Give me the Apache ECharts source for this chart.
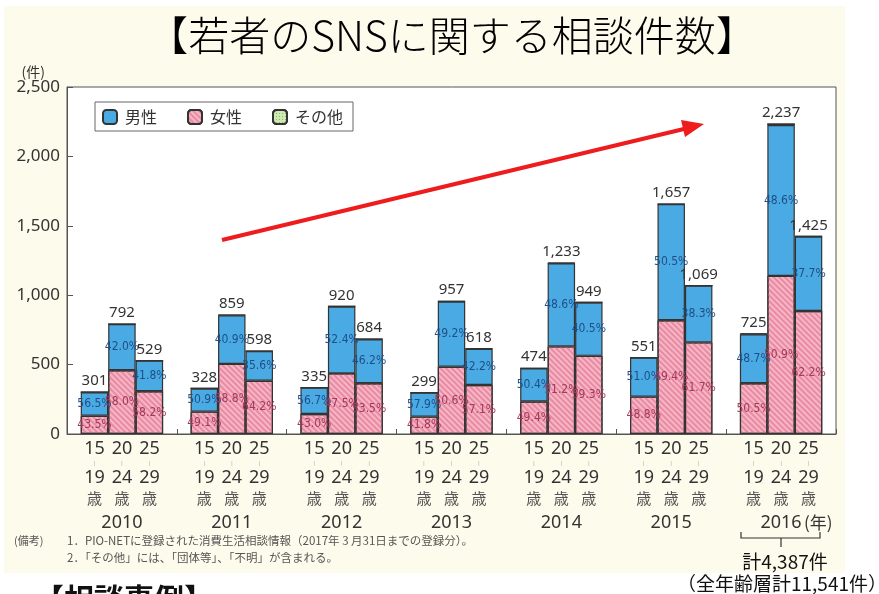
<!DOCTYPE html>
<html>
<head>
<meta charset="UTF-8">
<title>若者のSNSに関する相談件数</title>
<style>
  html, body { margin: 0; padding: 0; background: #fff; }
  #bg { position: absolute; left: 4px; top: 6px; width: 841px; height: 567px; background: #fdfbec; }
  #main { position: absolute; left: 0; top: 0; width: 879px; height: 594px; }
</style>
</head>
<body>
<div id="bg"></div>
<div id="main"></div>
<script src="https://cdn.jsdelivr.net/npm/echarts@6/dist/echarts.min.js"></script>
<script type="text/javascript">
// 年・年齢層
var years = ['2010', '2011', '2012', '2013', '2014', '2015', '2016'];
var ageTop = ['15', '20', '25'];
var ageBottom = ['19', '24', '29'];
// 合計件数（年齢層別）
var total15 = [301, 328, 335, 299, 474, 551, 725];
var total20 = [792, 859, 920, 957, 1233, 1657, 2237];
var total25 = [529, 598, 684, 618, 949, 1069, 1425];
// 男性の割合(%)
var male15 = [56.5, 50.9, 56.7, 57.9, 50.4, 51.0, 48.7];
var male20 = [42.0, 40.9, 52.4, 49.2, 48.6, 50.5, 48.6];
var male25 = [41.8, 35.6, 46.2, 42.2, 40.5, 38.3, 37.7];
// 女性の割合(%)
var female15 = [43.5, 49.1, 43.0, 41.8, 49.4, 48.8, 50.5];
var female20 = [58.0, 58.8, 47.5, 50.6, 51.2, 49.4, 50.9];
var female25 = [58.2, 64.2, 53.5, 57.1, 59.3, 61.7, 62.2];
// 縦軸
var yMax = 2500, yStep = 500;

var FONT = '"Noto Sans", "Noto Sans CJK JP", sans-serif';
var JP = '"Noto Sans CJK JP", sans-serif';
var NARROW = '"Liberation Sans Narrow", "DejaVu Sans Condensed", "Noto Sans", sans-serif';

function fmt(n) {
	return String(n).replace(/\B(?=(\d{3})+(?!\d))/g, ',');
}

var totals = [total15, total20, total25];
var males = [male15, male20, male25];
var females = [female15, female20, female25];

var blueStyle = { color: '#4aaae3', borderColor: '#333', borderWidth: 1.2 };
var pinkStyle = {
	color: '#f6b6c6', borderColor: '#333', borderWidth: 1.2,
	decal: { symbol: 'rect', symbolSize: 1, dashArrayX: [1, 0], dashArrayY: [1.2, 1.8], rotation: Math.PI / 4, color: '#e98aa3' }
};
var greenStyle = {
	color: '#cfe8b4', borderColor: '#333', borderWidth: 1.2,
	decal: { symbol: 'rect', symbolSize: 1, dashArrayX: [1, 2], dashArrayY: [1, 2], color: '#7fbf5c' }
};

var series = [];
for (var g = 0; g < 3; g++) {
	(function (g) {
		var t = totals[g], m = males[g], f = females[g];
		var fv = [], mv = [], ov = [];
		for (var i = 0; i < years.length; i++) {
			var fc = Math.round(t[i] * f[i] / 100);
			var mc = Math.round(t[i] * m[i] / 100);
			fv.push(fc);
			mv.push(mc);
			ov.push(Math.max(0, t[i] - fc - mc));
		}
		series.push({
			name: '女性', type: 'bar', stack: 'age' + g, data: fv,
			itemStyle: pinkStyle,
			label: {
				show: true, position: 'inside', fontFamily: NARROW, fontSize: 12, color: '#a23a5a',
				formatter: function (p) { return f[p.dataIndex].toFixed(1) + '%'; }
			}
		});
		series.push({
			name: '男性', type: 'bar', stack: 'age' + g, data: mv,
			itemStyle: blueStyle,
			label: {
				show: true, position: 'inside', fontFamily: NARROW, fontSize: 12, color: '#1f4f86',
				formatter: function (p) { return m[p.dataIndex].toFixed(1) + '%'; }
			}
		});
		series.push({
			name: 'その他', type: 'bar', stack: 'age' + g, data: ov,
			itemStyle: greenStyle,
			label: {
				show: true, position: 'top', distance: 3, fontFamily: FONT, fontSize: 15, color: '#333',
				formatter: function (p) { return fmt(t[p.dataIndex]); }
			}
		});
	})(g);
}

var vChart = echarts.init(document.getElementById('main'), null, { renderer: 'canvas' });
var option = {
	animation: false,
	backgroundColor: 'transparent',
	textStyle: { fontFamily: FONT },
	grid: {
		left: 67, right: 43, top: 87, bottom: 160,
		show: true, backgroundColor: '#fff', borderColor: '#555', borderWidth: 1
	},
	legend: {
		data: ['男性', '女性', 'その他'],
		left: 95, top: 102,
		orient: 'horizontal',
		backgroundColor: '#fff',
		borderColor: '#666', borderWidth: 1, borderRadius: 0,
		padding: [7, 10, 6, 7],
		itemWidth: 14, itemHeight: 14, itemGap: 30,
		textStyle: { fontFamily: JP, fontSize: 16, color: '#333', padding: [0, 0, 0, 3] }
	},
	xAxis: {
		type: 'category',
		data: years,
		axisLine: { lineStyle: { color: '#555' } },
		axisTick: { show: true, inside: true, length: 5, lineStyle: { color: '#555' } },
		axisLabel: {
			interval: 0, margin: 5,
			formatter: function (v, idx) {
				var s = '';
				s += ageTop.map(function (a) { return '{n|' + a + '}'; }).join('') + '\n';
				s += '{t||}{t||}{t||}\n';
				s += ageBottom.map(function (a) { return '{n|' + a + '}'; }).join('') + '\n';
				s += '{k|歳}{k|歳}{k|歳}\n';
				if (idx === years.length - 1) {
					s += '{p|}{y|' + v + '}{yn|(年)}';
				} else {
					s += '{y|' + v + '}';
				}
				return s;
			},
			rich: {
				n: { width: 27.5, fontSize: 18, lineHeight: 20, color: '#333', fontFamily: FONT },
				t: { width: 27.5, fontSize: 6, lineHeight: 9, color: '#aaa', fontFamily: FONT },
				k: { width: 27.5, fontSize: 15, lineHeight: 21, color: '#555', fontFamily: JP },
				y: { fontSize: 18, lineHeight: 28, color: '#333', fontFamily: FONT },
				p: { width: 33, fontSize: 18, lineHeight: 28 },
				yn: { width: 33, fontSize: 17, lineHeight: 28, color: '#333', fontFamily: JP }
			}
		}
	},
	yAxis: {
		type: 'value',
		min: 0, max: yMax, interval: yStep,
		name: '(件)',
		nameLocation: 'end',
		nameGap: 8,
		nameTextStyle: { fontSize: 14, color: '#333', align: 'right', padding: [0, 22, 0, 0], fontFamily: JP },
		axisLine: { show: true, lineStyle: { color: '#555' } },
		axisTick: { show: true, inside: true, length: 6, lineStyle: { color: '#555' } },
		splitLine: { show: false },
		axisLabel: {
			margin: 7, fontSize: 17, color: '#333', fontFamily: FONT,
			formatter: function (v) { return fmt(v); }
		}
	},
	series: series.map(function (s) {
		s.barGap = '0%';
		s.barCategoryGap = '25%';
		return s;
	}),
	graphic: [
		{
			type: 'text', x: 452, y: 15, z: 10,
			style: { text: '【若者のSNSに関する相談件数】', font: '300 41px ' + JP, fill: '#000', textAlign: 'center' }
		},
		{
			type: 'line', z: 20,
			shape: { x1: 222, y1: 240, x2: 688, y2: 128 },
			style: { stroke: '#ee1c1c', lineWidth: 4 }
		},
		{
			type: 'polygon', z: 20,
			shape: { points: [[704, 124], [685, 137], [681, 120]] },
			style: { fill: '#ee1c1c' }
		},
		{
			type: 'text', left: 14, top: 535,
			style: { text: '(備考)', font: '11px ' + JP, fill: '#555' }
		},
		{
			type: 'text', left: 67, top: 535,
			style: { text: '1．PIO-NETに登録された消費生活相談情報（2017年 3 月31日までの登録分）。', font: '11.5px ' + JP, fill: '#555' }
		},
		{
			type: 'text', left: 67, top: 552,
			style: { text: '2．「その他」には、「団体等」、「不明」が含まれる。', font: '11.5px ' + JP, fill: '#555' }
		},
		{
			type: 'polyline',
			shape: { points: [[741, 532], [741, 538], [820, 538], [820, 532]] },
			style: { stroke: '#333', lineWidth: 1.2, fill: null }
		},
		{
			type: 'line',
			shape: { x1: 781, y1: 538, x2: 781, y2: 547 },
			style: { stroke: '#333', lineWidth: 1.2 }
		},
		{
			type: 'text', x: 785, y: 552,
			style: { text: '計4,387件', font: '19px ' + JP, fill: '#111', textAlign: 'center' }
		},
		{
			type: 'text', x: 677, y: 574,
			style: { text: '（全年齢層計11,541件）', font: '19px ' + JP, fill: '#111' }
		},
		{
			type: 'text', x: 34, y: 584,
			style: { text: '【相談事例】', font: 'bold 30px ' + JP, fill: '#111' }
		}
	]
};
vChart.setOption(option);
window.onresize = function () {
	if (vChart != undefined) {
		vChart.resize();
	}
};
</script>
</body>
</html>
